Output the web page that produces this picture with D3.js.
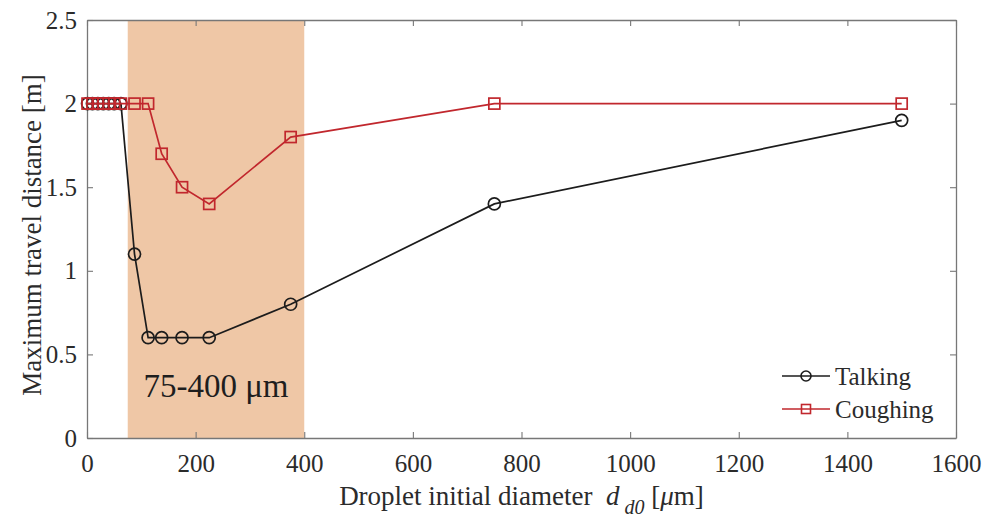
<!DOCTYPE html>
<html><head><meta charset="utf-8">
<script src="https://cdn.jsdelivr.net/npm/d3@7"></script>
<style>body{margin:0;background:#fff}svg{display:block}</style>
</head><body>
<svg id="c" width="992" height="521"></svg>
<script>
const diameters = [1, 10, 20, 30, 40, 50, 62.5, 87.5, 112.5, 137.5, 175, 225, 375, 750, 1500];
const talking  = [2, 2, 2, 2, 2, 2, 2, 1.1, 0.6, 0.6, 0.6, 0.6, 0.8, 1.4, 1.9];
const coughing = [2, 2, 2, 2, 2, 2, 2, 2, 2, 1.7, 1.5, 1.4, 1.8, 2, 2];
const xTicks = [0, 200, 400, 600, 800, 1000, 1200, 1400, 1600];
const yTicks = [0, 0.5, 1, 1.5, 2, 2.5];
const band = [75, 400];

const svg = d3.select("#c");
const m = {l: 87, r: 36, t: 20, b: 83};
const W = 992, H = 521;
const x = d3.scaleLinear().domain([0, 1600]).range([m.l, W - m.r]);
const y = d3.scaleLinear().domain([0, 2.5]).range([H - m.b, m.t]);
const font = "'Liberation Serif', 'Times New Roman', serif";
const txt = "#2b2b2b";
const axisCol = "#777";

svg.append("rect").attr("x", x(band[0])).attr("y", y(2.5))
  .attr("width", x(band[1]) - x(band[0])).attr("height", y(0) - y(2.5))
  .attr("fill", "#efc7a6");

svg.append("text").attr("x", (x(band[0]) + x(band[1])) / 2).attr("y", 397)
  .attr("text-anchor", "middle").attr("font-family", font).attr("font-size", 33)
  .attr("fill", "#1e1e1e").text("75-400 μm");

function styleAxis(g) {
  g.selectAll("path").attr("stroke", axisCol).attr("stroke-width", 1.3);
  g.selectAll("line").attr("stroke", axisCol).attr("stroke-width", 1.1);
  g.selectAll("text").attr("font-family", font).attr("font-size", 25).attr("fill", txt);
}
const gx = svg.append("g").attr("transform", `translate(0,${y(0)})`)
  .call(d3.axisBottom(x).tickValues(xTicks).tickFormat(d3.format("d")).tickSize(-6).tickPadding(16).tickSizeOuter(0));
styleAxis(gx);
const gy = svg.append("g").attr("transform", `translate(${x(0)},0)`)
  .call(d3.axisLeft(y).tickValues(yTicks).tickFormat(d3.format("~g")).tickSize(-6).tickPadding(10).tickSizeOuter(0));
styleAxis(gy);
const gt = svg.append("g").attr("transform", `translate(0,${y(2.5)})`)
  .call(d3.axisTop(x).tickValues(xTicks).tickSize(-6).tickFormat("").tickSizeOuter(0));
styleAxis(gt);
const gr = svg.append("g").attr("transform", `translate(${x(1600)},0)`)
  .call(d3.axisRight(y).tickValues(yTicks).tickSize(-6).tickFormat("").tickSizeOuter(0));
styleAxis(gr);

const line = d3.line().x(d => x(d[0])).y(d => y(d[1]));
const series = [
  {name: "Talking", vals: talking, color: "#1c1c1c", shape: "circle"},
  {name: "Coughing", vals: coughing, color: "#c1272d", shape: "square"}
];
series.forEach(s => {
  const pts = diameters.map((d, i) => [d, s.vals[i]]);
  svg.append("path").datum(pts).attr("d", line).attr("fill", "none")
    .attr("stroke", s.color).attr("stroke-width", 1.7);
  if (s.shape === "circle") {
    svg.selectAll(null).data(pts).enter().append("circle")
      .attr("cx", d => x(d[0])).attr("cy", d => y(d[1])).attr("r", 6)
      .attr("fill", "none").attr("stroke", s.color).attr("stroke-width", 1.7);
  } else {
    svg.selectAll(null).data(pts).enter().append("rect")
      .attr("x", d => x(d[0]) - 5.5).attr("y", d => y(d[1]) - 5.5)
      .attr("width", 11).attr("height", 11)
      .attr("fill", "none").attr("stroke", s.color).attr("stroke-width", 1.7);
  }
});

// legend
const lg = svg.append("g");
series.forEach((s, i) => {
  const ly = 376 + i * 33;
  lg.append("line").attr("x1", 782).attr("x2", 830).attr("y1", ly).attr("y2", ly)
    .attr("stroke", s.color).attr("stroke-width", 1.7);
  if (s.shape === "circle") {
    lg.append("circle").attr("cx", 806).attr("cy", ly).attr("r", 5)
      .attr("fill", "none").attr("stroke", s.color).attr("stroke-width", 1.6);
  } else {
    lg.append("rect").attr("x", 801.5).attr("y", ly - 4.5).attr("width", 9).attr("height", 9)
      .attr("fill", "none").attr("stroke", s.color).attr("stroke-width", 1.6);
  }
  lg.append("text").attr("x", 835).attr("y", ly + 9).attr("font-family", font)
    .attr("font-size", 25).attr("fill", txt).text(s.name);
});

// axis titles
svg.append("text").attr("transform", `translate(41,235) rotate(-90)`)
  .attr("text-anchor", "middle").attr("font-family", font).attr("font-size", 27)
  .attr("fill", txt).text("Maximum travel distance [m]");

const xl = svg.append("text").attr("x", (x(0) + x(1600)) / 2).attr("y", 505)
  .attr("text-anchor", "middle").attr("font-family", font).attr("font-size", 27).attr("fill", txt)
  .attr("xml:space", "preserve").style("white-space", "pre");
xl.append("tspan").text("Droplet initial diameter  ");
xl.append("tspan").attr("font-style", "italic").text("d");
xl.append("tspan").attr("font-style", "italic").attr("font-size", 20).attr("dy", 9).text(" d0");
xl.append("tspan").attr("dy", -9).text(" [");
xl.append("tspan").attr("font-style", "italic").text("μ");
xl.append("tspan").text("m]");
</script>
</body></html>
